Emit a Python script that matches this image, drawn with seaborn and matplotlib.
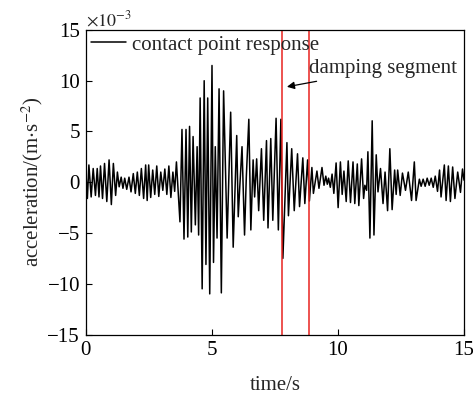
import matplotlib
matplotlib.use("Agg")
import matplotlib.pyplot as plt
import seaborn as sns
import pandas as pd

# extrema of the contact point response (time in s, acceleration in 1e-3 m/s^2)
time_s = [0.00, 0.07, 0.13, 0.22, 0.30, 0.39, 0.46, 0.53, 0.59, 0.67, 0.75, 0.84, 0.93, 1.02,
          1.10, 1.19, 1.26, 1.33, 1.41, 1.48, 1.55, 1.63, 1.72, 1.80, 1.89, 1.97, 2.05, 2.13,
          2.21, 2.30, 2.38, 2.44, 2.50, 2.58, 2.66, 2.74, 2.82, 2.90, 2.98, 3.06, 3.14, 3.22,
          3.30, 3.38, 3.46, 3.53, 3.60, 3.74, 3.82, 3.90, 3.98, 4.05, 4.12, 4.19, 4.26, 4.35,
          4.42, 4.48, 4.54, 4.62, 4.70, 4.77, 4.84, 4.92, 5.01, 5.07, 5.14, 5.21, 5.29, 5.38,
          5.47, 5.61, 5.75, 5.85, 5.99, 6.05, 6.11, 6.20, 6.30, 6.37, 6.47, 6.55, 6.64, 6.70,
          6.78, 6.86, 6.97, 7.06, 7.17, 7.23, 7.34, 7.42, 7.55, 7.64, 7.74, 7.82, 7.98, 8.04,
          8.17, 8.27, 8.40, 8.48, 8.61, 8.69, 8.80, 8.87, 8.97, 9.03, 9.17, 9.25, 9.37, 9.45,
          9.52, 9.58, 9.63, 9.70, 9.77, 9.84, 9.93, 10.01, 10.10, 10.17, 10.24, 10.33, 10.41,
          10.50, 10.60, 10.67, 10.77, 10.83, 10.94, 11.02, 11.07, 11.14, 11.19, 11.27, 11.36,
          11.43, 11.52, 11.59, 11.69, 11.79, 11.87, 11.97, 12.06, 12.15, 12.25, 12.31, 12.37,
          12.47, 12.56, 12.68, 12.79, 12.92, 13.03, 13.10, 13.23, 13.30, 13.38, 13.46, 13.54,
          13.62, 13.70, 13.78, 13.86, 13.95, 14.03, 14.09, 14.22, 14.29, 14.38, 14.46, 14.55,
          14.64, 14.75, 14.86, 14.94, 15.00]
accel_1e3 = [1.5, -1.6, 1.7, -1.45, 1.35, -1.3, 1.35, -1.45, 1.6, -1.6, 1.85, -1.9, 2.2, -2.2,
             1.85, -1.3, 1.0, -0.45, 0.5, -0.6, 0.4, -0.7, 0.5, -0.95, 0.85, -1.1, 1.0, -1.3,
             1.35, -1.6, 1.7, -1.8, 1.7, -1.5, 1.2, -1.2, 1.6, -1.4, 1.0, -0.8, 1.3, -1.2,
             1.6, -1.5, 1.0, -0.9, 2.0, -3.9, 5.2, -5.6, 5.2, -5.4, 5.5, -4.9, 4.5, -4.2,
             3.5, -5.2, 8.3, -10.5, 10.0, -8.1, 8.3, -11.0, 11.5, -7.9, 3.5, -5.5, 9.2, -10.9,
             9.0, -5.5, 6.9, -6.4, 4.6, -3.4, -0.5, 3.5, -5.2, 0.5, 6.2, -4.7, 2.2, -1.45,
             2.3, -2.8, 3.3, -3.75, 4.1, -4.5, 4.3, -3.75, 6.3, -4.7, 6.2, -7.5, 3.9, -3.3,
             3.3, -2.8, 2.8, -2.4, 2.4, -2.1, 2.2, -1.85, 1.45, -1.1, 1.1, -0.6, 1.45, -0.3,
             0.6, -0.2, 0.4, -0.5, 0.8, -1.1, 1.9, -2.5, 2.0, -1.2, 1.1, -1.9, 2.1,
             -2.0, 2.0, -2.1, 1.8, -2.3, 2.3, -1.6, -0.3, -0.8, 3.0, -5.5, 6.05,
             -5.2, 2.7, -0.95, 1.35, -2.1, 1.0, -2.8, 3.3, -2.7, 1.2, -1.2, 1.2,
             -1.3, 0.9, -0.8, 1.0, -1.8, 2.0, -1.8, 0.3, -0.4, 0.3, -0.4, 0.4,
             -0.3, 0.4, -0.5, 0.6, -0.9, 1.2, -1.45, 1.7, -1.8, 1.6, -1.9, 1.5,
             -1.6, 1.0, -1.0, 1.3, 0.2]

damping_bounds = [7.8, 8.87]
x_ticks = [0, 5, 10, 15]
y_ticks = [-15, -10, -5, 0, 5, 10, 15]
y_ticklabels = ["\u221215", "\u221210", "\u22125", "0", "5", "10", "15"]

sns.set_style("ticks")
plt.rcParams["font.family"] = ["Liberation Serif", "DejaVu Serif"]
plt.rcParams["mathtext.fontset"] = "stix"

FS = 15

fig = plt.figure(figsize=(4.73, 3.94), dpi=100)
ax = fig.add_axes([0.181, 0.151, 0.800, 0.773])

df = pd.DataFrame({"time": time_s, "acc": accel_1e3})
sns.lineplot(data=df, x="time", y="acc", ax=ax, color="black", linewidth=1.1,
             estimator=None, sort=False, label="contact point response")

for xb in damping_bounds:
    ax.axvline(xb, color="#e8231f", linewidth=1.1)

ax.set_xlim(0, 15)
ax.set_ylim(-15, 15)
ax.set_xticks(x_ticks)
ax.set_xticklabels([str(v) for v in x_ticks])
ax.set_yticks(y_ticks)
ax.set_yticklabels(y_ticklabels)
ax.tick_params(direction="in", length=4.5, width=0.8, labelsize=FS, colors="black",
               top=False, right=False, pad=4)
ax.tick_params(axis="x", pad=5)
for s in ax.spines.values():
    s.set_visible(True)
    s.set_linewidth(0.9)
    s.set_color("black")

ax.set_xlabel("time/s", fontsize=FS, labelpad=11)
ax.set_ylabel("acceleration/(m$\\cdot$s$^{-2}$)", fontsize=FS, labelpad=2)

ax.text(0.0, 1.0, "$\\times10^{-3}$", transform=ax.transAxes, fontsize=FS - 2,
        ha="left", va="bottom")

leg = ax.legend(loc="upper left", frameon=False, fontsize=FS, handlelength=1.7,
                borderaxespad=0.0, borderpad=0.25, handletextpad=0.3)

ax.annotate("damping segment", xy=(7.98, 9.4), xytext=(8.86, 11.2),
            fontsize=FS, ha="left", va="center",
            arrowprops=dict(arrowstyle="-|>", color="black", lw=0.9,
                            shrinkA=0, shrinkB=0, mutation_scale=11,
                            relpos=(0.17, 0.0)))

fig.savefig("out.png", dpi=100)
